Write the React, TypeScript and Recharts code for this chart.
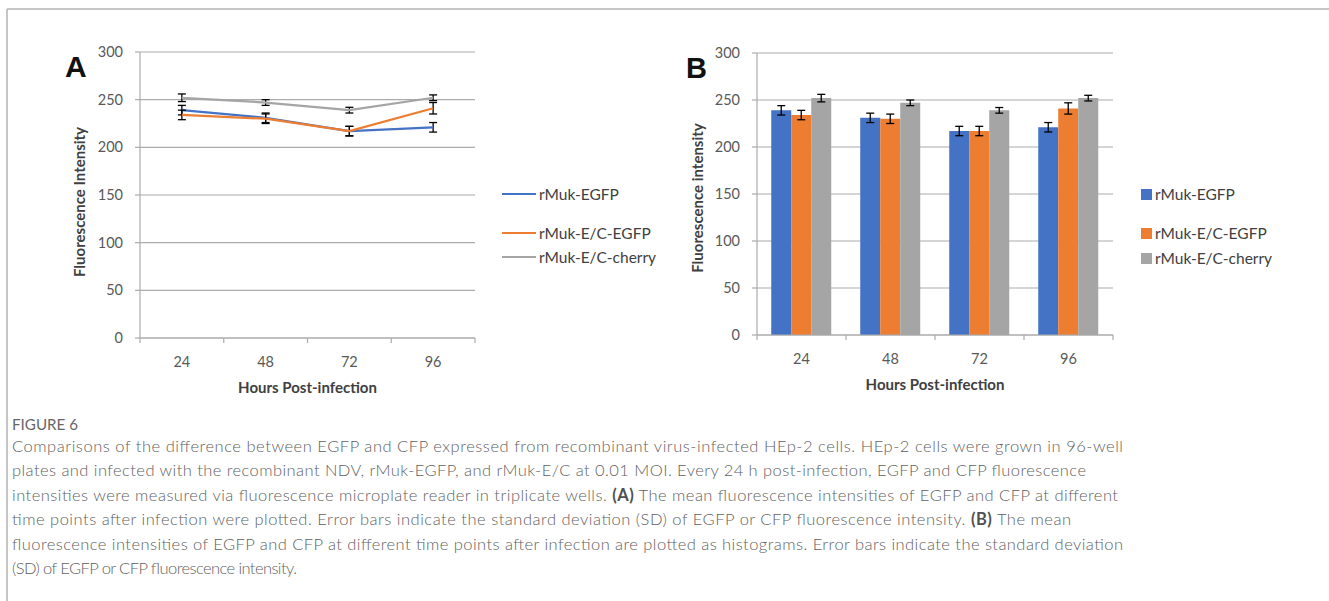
import React from 'react';
import { LineChart, Line, BarChart, Bar, XAxis, YAxis, CartesianGrid, ErrorBar, Label } from 'recharts';

const hours = ['24', '48', '72', '96'];
const seriesNames = ['rMuk-EGFP', 'rMuk-E/C-EGFP', 'rMuk-E/C-cherry'];
const egfp = [239, 231, 217, 221];
const egfpSd = [5, 5, 5, 5];
const ecEgfp = [234, 230, 217, 241];
const ecEgfpSd = [5, 5, 5, 6];
const ecCherry = [252, 247, 239, 252];
const ecCherrySd = [4, 3, 3, 3];
const yTicks = [0, 50, 100, 150, 200, 250, 300];

const captionLines = [
  'Comparisons of the difference between EGFP and CFP expressed from recombinant virus-infected HEp-2 cells. HEp-2 cells were grown in 96-well',
  'plates and infected with the recombinant NDV, rMuk-EGFP, and rMuk-E/C at 0.01 MOI. Every 24 h post-infection, EGFP and CFP fluorescence',
  'intensities were measured via fluorescence microplate reader in triplicate wells. **(A)** The mean fluorescence intensities of EGFP and CFP at different',
  'time points after infection were plotted. Error bars indicate the standard deviation (SD) of EGFP or CFP fluorescence intensity. **(B)** The mean',
  'fluorescence intensities of EGFP and CFP at different time points after infection are plotted as histograms. Error bars indicate the standard deviation',
  '(SD) of EGFP or CFP fluorescence intensity.',
];
const captionWidths = [1111, 1074, 1106, 1059, 1111, 285];

const COLORS = ['#4472C4', '#ED7D31', '#A5A5A5'];
const KEYS = ['egfp', 'ecEgfp', 'ecCherry'];
const GRID = '#ababab';
const FONT = 'Lato, "Open Sans", sans-serif';

const data = hours.map((h, i) => ({
  hour: h,
  egfp: egfp[i],
  egfpSd: egfpSd[i],
  ecEgfp: ecEgfp[i],
  ecEgfpSd: ecEgfpSd[i],
  ecCherry: ecCherry[i],
  ecCherrySd: ecCherrySd[i],
}));

// category label in the middle of the band, tick marks on the band edges (Excel style)
const makeTick = (band: number) => (props: any) => {
  const { x, y, payload, index } = props;
  const axisY = y - 19;
  const left = x - band / 2;
  return (
    <g>
      <line x1={left} y1={axisY} x2={left} y2={axisY + 5} stroke={GRID} strokeWidth={1.2} />
      {index === hours.length - 1 && (
        <line x1={left + band} y1={axisY} x2={left + band} y2={axisY + 5} stroke={GRID} strokeWidth={1.2} />
      )}
      <text x={x} y={y} dy="0.71em" textAnchor="middle" fill="#595959" fontSize={14.5} fontFamily={FONT}>
        {payload.value}
      </text>
    </g>
  );
};

const yTitle = (text: string, x: number, y: number) => () => (
  <text
    transform={`translate(${x},${y}) rotate(-90)`}
    textAnchor="middle"
    dominantBaseline="central"
    fill="#404040"
    fontWeight={700}
    fontSize={15}
    fontFamily={FONT}
  >
    {text}
  </text>
);

const LegendBox = ({ swatchLeft, textLeft, centers, kind }: any) => (
  <>
    {seriesNames.map((name, i) => (
      <div
        key={name}
        style={{
          position: 'absolute',
          left: swatchLeft,
          top: centers[i] - 10,
          height: 20,
          display: 'flex',
          alignItems: 'center',
          fontFamily: FONT,
          fontSize: 15.5,
          color: '#404040',
          whiteSpace: 'nowrap',
        }}
      >
        {kind === 'line' ? (
          <span style={{ width: 34, height: 2.5, background: COLORS[i], display: 'inline-block' }} />
        ) : (
          <span style={{ width: 11, height: 11, background: COLORS[i], display: 'inline-block' }} />
        )}
        <span style={{ marginLeft: textLeft - swatchLeft - (kind === 'line' ? 34 : 11) }}>{name}</span>
      </div>
    ))}
  </>
);

const Caption = () => (
  <svg width={1329} height={601} style={{ position: 'absolute', left: 0, top: 0, pointerEvents: 'none' }}>
    <line x1={7} y1={9} x2={1329} y2={9} stroke="#b3b3b3" strokeWidth={1.5} />
    <line x1={7} y1={9} x2={7} y2={601} stroke="#b3b3b3" strokeWidth={1.5} />
    <text x={65} y={77} fontFamily='"Liberation Sans", Arial, sans-serif' fontWeight={700} fontSize={30} fill="#111">A</text>
    <text x={686} y={78} fontFamily='"Liberation Sans", Arial, sans-serif' fontWeight={700} fontSize={29} fill="#111">B</text>
    <text x={12} y={430} fontFamily={FONT} fontSize={14.5} fill="#666" textLength={66} lengthAdjust="spacingAndGlyphs">
      FIGURE 6
    </text>
    {captionLines.map((line, i) => (
      <text
        key={i}
        x={12}
        y={452 + i * 24.4}
        fontFamily={FONT}
        fontWeight={300}
        fontSize={16.5}
        fill="#5f5f5f"
        textLength={captionWidths[i]}
        lengthAdjust="spacing"
      >
        {line.split('**').map((part, j) => (
          <tspan key={j} fontWeight={j % 2 === 1 ? 700 : 300} fill={j % 2 === 1 ? '#505050' : '#5f5f5f'}>
            {part}
          </tspan>
        ))}
      </text>
    ))}
  </svg>
);

export default function App() {
  return (
    <div style={{ position: 'absolute', left: 0, top: 0, width: 1329, height: 601, background: '#fff', overflow: 'hidden' }}>
      <div style={{ position: 'absolute', left: 0, top: 0 }}>
        <LineChart width={700} height={400} data={data} margin={{ top: 52, right: 225, bottom: 32, left: 0 }}>
          <CartesianGrid vertical={false} stroke={GRID} strokeWidth={1.2} />
          <XAxis
            dataKey="hour"
            scale="band"
            height={30}
            axisLine={{ stroke: GRID, strokeWidth: 1.2 }}
            tickLine={false}
            tickSize={5}
            tickMargin={14}
            tick={makeTick(335 / hours.length)}
            interval={0}
          >
            <Label value="Hours Post-infection" position="bottom" offset={14} fill="#404040" fontWeight={700} fontSize={15} fontFamily={FONT} />
          </XAxis>
          <YAxis
            width={140}
            domain={[0, 300]}
            ticks={yTicks}
            interval={0}
            axisLine={{ stroke: GRID, strokeWidth: 1.2 }}
            tickLine={{ stroke: GRID, strokeWidth: 1.2 }}
            tickSize={5}
            tickMargin={12}
            tick={{ fill: '#595959', fontSize: 14.5, fontFamily: FONT }}
          >
            <Label content={yTitle('Fluorescence Intensity', 79, 202)} />
          </YAxis>
          {KEYS.map((k, i) => (
            <Line
              key={k}
              type="linear"
              dataKey={k}
              name={seriesNames[i]}
              stroke={COLORS[i]}
              strokeWidth={2.25}
              dot={false}
              activeDot={false}
              isAnimationActive={false}
            >
              <ErrorBar dataKey={`${k}Sd`} width={4} stroke="#000" strokeWidth={1.3} direction="y" />
            </Line>
          ))}
        </LineChart>
      </div>
      <LegendBox swatchLeft={502} textLeft={539} centers={[194, 233, 257]} kind="line" />

      <div style={{ position: 'absolute', left: 620, top: 0 }}>
        <BarChart
          width={700}
          height={400}
          data={data}
          margin={{ top: 53, right: 207, bottom: 35, left: 0 }}
          barCategoryGap="16%"
          barGap={0}
        >
          <CartesianGrid vertical={false} stroke={GRID} strokeWidth={1.2} />
          <XAxis
            dataKey="hour"
            height={30}
            axisLine={{ stroke: GRID, strokeWidth: 1.2 }}
            tickLine={false}
            tickSize={5}
            tickMargin={14}
            tick={makeTick(356 / hours.length)}
            interval={0}
          >
            <Label value="Hours Post-infection" position="bottom" offset={14} fill="#404040" fontWeight={700} fontSize={15} fontFamily={FONT} />
          </XAxis>
          <YAxis
            width={137}
            domain={[0, 300]}
            ticks={yTicks}
            interval={0}
            axisLine={{ stroke: GRID, strokeWidth: 1.2 }}
            tickLine={{ stroke: GRID, strokeWidth: 1.2 }}
            tickSize={5}
            tickMargin={12}
            tick={{ fill: '#595959', fontSize: 14.5, fontFamily: FONT }}
          >
            <Label content={yTitle('Fluorescence intensity', 77, 198)} />
          </YAxis>
          {KEYS.map((k, i) => (
            <Bar key={k} dataKey={k} name={seriesNames[i]} fill={COLORS[i]} isAnimationActive={false}>
              <ErrorBar dataKey={`${k}Sd`} width={4} stroke="#000" strokeWidth={1.3} direction="y" />
            </Bar>
          ))}
        </BarChart>
      </div>
      <LegendBox swatchLeft={1141} textLeft={1155} centers={[194, 233, 258]} kind="bar" />

      <Caption />
    </div>
  );
}
